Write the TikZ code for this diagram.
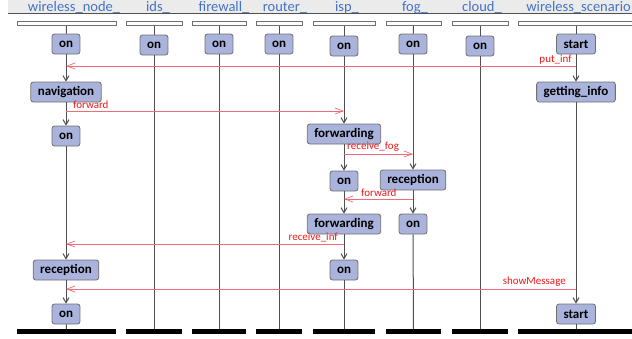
\documentclass[tikz,border=0pt]{standalone}
\usepackage{fontspec}
\setmainfont{Carlito}
\usetikzlibrary{arrows.meta}
\definecolor{nodefill}{HTML}{A9B3DB}
\definecolor{nodedraw}{HTML}{707070}
\definecolor{titleblue}{HTML}{4472C4}
\definecolor{hdr}{HTML}{EBEBEB}
\definecolor{msgline}{HTML}{F06A78}
\definecolor{msgtext}{HTML}{F01818}
\definecolor{lifegray}{HTML}{505050}
\tikzset{
  state/.style={draw=nodedraw, fill=nodefill, rounded corners=2.5pt, line width=0.8pt,
    minimum height=20pt, inner xsep=7pt, inner ysep=0pt,
    font=\fontsize{13}{15}\selectfont\bfseries},
  title/.style={text=titleblue, font=\fontsize{14.5}{16}\selectfont, inner sep=0pt},
  topbar/.style={draw=nodedraw, fill=white, line width=0.8pt, minimum height=4.5pt, inner sep=0pt},
  botbar/.style={fill=black, minimum height=4.5pt, inner sep=0pt},
  life/.style={draw=lifegray, line width=1pt},
  lifearrow/.style={life, -{Straight Barb[length=5pt,width=6pt]}},
  msg/.style={draw=msgline, line width=0.7pt, -{Straight Barb[length=8pt,width=6pt]}},
  msglabel/.style={text=msgtext, font=\fontsize{11}{13}\selectfont, inner sep=1pt}
}
\begin{document}
\begin{tikzpicture}[x=1pt,y=-1pt]
\useasboundingbox (0,0) rectangle (632,338);
% header band
\fill[hdr] (8,0) rectangle (632,13);
\draw[lifegray, line width=0.8pt] (8,13) -- (632,13);
% titles
\node[title, anchor=base] (t1) at (74,11) {wireless\_node\_};
\node[title, anchor=base] (t2) at (158,11) {ids\_};
\node[title, anchor=base] (t3) at (224,11) {firewall\_};
\node[title, anchor=base] (t4) at (285,11) {router\_};
\node[title, anchor=base] (t5) at (347,11) {isp\_};
\node[title, anchor=base] (t6) at (415,11) {fog\_};
\node[title, anchor=base] (t7) at (482,11) {cloud\_};
\node[title, anchor=base east] (t8) at (631,11) {wireless\_scenario};
% top bars
\node[topbar, minimum width=99pt] (wn_top) at (66.5,23.5) {};
\node[topbar, minimum width=56pt] (ids_top) at (154,23.5) {};
\node[topbar, minimum width=54pt] (fw_top) at (219,23.5) {};
\node[topbar, minimum width=46pt] (rt_top) at (279,23.5) {};
\node[topbar, minimum width=62pt] (isp_top) at (344,23.5) {};
\node[topbar, minimum width=55pt] (fog_top) at (413.5,23.5) {};
\node[topbar, minimum width=56pt] (cl_top) at (480,23.5) {};
\node[topbar, minimum width=116pt] (sc_top) at (576,23.5) {};
% bottom bars
\node[botbar, minimum width=99pt] (wn_bot) at (66.5,331.5) {};
\node[botbar, minimum width=56pt] (ids_bot) at (154,331.5) {};
\node[botbar, minimum width=54pt] (fw_bot) at (219,331.5) {};
\node[botbar, minimum width=46pt] (rt_bot) at (279,331.5) {};
\node[botbar, minimum width=62pt] (isp_bot) at (344,331.5) {};
\node[botbar, minimum width=55pt] (fog_bot) at (413.5,331.5) {};
\node[botbar, minimum width=56pt] (cl_bot) at (480,331.5) {};
\node[botbar, minimum width=116pt] (sc_bot) at (576,331.5) {};
% state nodes
\node[state] (wn_on1) at (66,44) {on};
\node[state] (ids_on) at (154,45) {on};
\node[state] (fw_on) at (219,44) {on};
\node[state] (rt_on) at (279,44) {on};
\node[state] (isp_on1) at (344,46) {on};
\node[state] (fog_on1) at (413,44) {on};
\node[state] (cl_on) at (480,46) {on};
\node[state] (sc_start1) at (576,44) {start};
\node[state] (wn_nav) at (66,92) {navigation};
\node[state] (sc_get) at (576,92) {getting\_info};
\node[state] (wn_on2) at (66,136) {on};
\node[state] (isp_fwd1) at (344,134) {forwarding};
\node[state] (isp_on2) at (344,181) {on};
\node[state] (fog_rec) at (413,180) {reception};
\node[state] (isp_fwd2) at (344,224) {forwarding};
\node[state] (fog_on2) at (413,224) {on};
\node[state] (wn_rec) at (66,270) {reception};
\node[state] (isp_on3) at (344,270) {on};
\node[state] (wn_on3) at (66,314) {on};
\node[state] (sc_start2) at (576,314) {start};
% lifelines
\draw[life] (wn_top) -- (wn_on1);
\draw[lifearrow] (wn_on1) -- (wn_nav);
\draw[lifearrow] (wn_nav) -- (wn_on2);
\draw[lifearrow] (wn_on2) -- (wn_rec);
\draw[lifearrow] (wn_rec) -- (wn_on3);
\draw[life] (wn_on3) -- (wn_bot);
\draw[life] (ids_top) -- (ids_on);
\draw[life] (ids_on) -- (ids_bot);
\draw[life] (fw_top) -- (fw_on);
\draw[life] (fw_on) -- (fw_bot);
\draw[life] (rt_top) -- (rt_on);
\draw[life] (rt_on) -- (rt_bot);
\draw[life] (isp_top) -- (isp_on1);
\draw[lifearrow] (isp_on1) -- (isp_fwd1);
\draw[lifearrow] (isp_fwd1) -- (isp_on2);
\draw[lifearrow] (isp_on2) -- (isp_fwd2);
\draw[lifearrow] (isp_fwd2) -- (isp_on3);
\draw[life] (isp_on3) -- (isp_bot);
\draw[life] (fog_top) -- (fog_on1);
\draw[lifearrow] (fog_on1) -- (fog_rec);
\draw[lifearrow] (fog_rec) -- (fog_on2);
\draw[life] (fog_on2) -- (fog_bot);
\draw[life] (cl_top) -- (cl_on);
\draw[life] (cl_on) -- (cl_bot);
\draw[life] (sc_top) -- (sc_start1);
\draw[lifearrow] (sc_start1) -- (sc_get);
\draw[lifearrow] (sc_get) -- (sc_start2);
\draw[life] (sc_start2) -- (sc_bot);
% message heights
\coordinate (y1) at (0,66);
\coordinate (y2) at (0,111);
\coordinate (y3) at (0,154);
\coordinate (y4) at (0,199);
\coordinate (y5) at (0,244);
\coordinate (y6) at (0,289);
% messages
\draw[msg] (sc_start1 |- y1) -- (wn_on1 |- y1);
\node[msglabel, anchor=south east] (l1) at (573,65) {put\_inf};
\draw[msg] (wn_nav |- y2) -- (isp_on1 |- y2);
\node[msglabel, anchor=south west] (l2) at (72,110) {forward};
\draw[msg] (isp_fwd1 |- y3) -- (fog_on1 |- y3);
\node[msglabel, anchor=south west] (l3) at (346,153) {receive\_fog};
\draw[msg] (fog_rec |- y4) -- (isp_on2 |- y4);
\node[msglabel, anchor=south west] (l4) at (360,198) {forward};
\draw[msg] (isp_fwd2 |- y5) -- (wn_on2 |- y5);
\node[msglabel, anchor=south east] (l5) at (339,243) {receive\_inf};
\draw[msg] (sc_get |- y6) -- (wn_rec |- y6);
\node[msglabel, anchor=south east] (l6) at (567,288) {showMessage};
\end{tikzpicture}
\end{document}
